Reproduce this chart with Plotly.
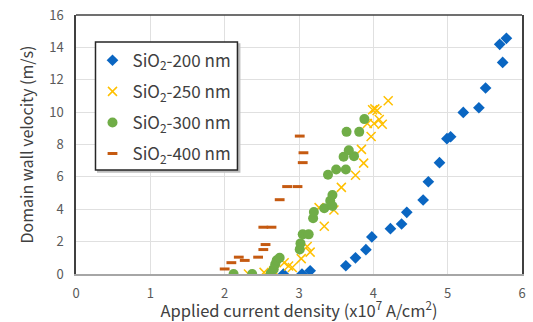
import plotly.graph_objects as go

# SiO2-200 nm
x200 = [2.79, 3.04, 3.15, 3.63, 3.76, 3.90, 3.98, 4.23, 4.38, 4.45, 4.67, 4.74, 4.89, 4.99, 5.04, 5.21, 5.42, 5.51, 5.70, 5.79, 5.74]
y200 = [0.0, 0.0, 0.2, 0.51, 1.0, 1.5, 2.29, 2.8, 3.09, 3.81, 4.57, 5.70, 6.88, 8.36, 8.48, 9.98, 10.27, 11.49, 14.19, 14.56, 13.07]

# SiO2-250 nm
x250 = [2.32, 2.53, 2.80, 2.86, 2.91, 3.03, 3.11, 3.15, 3.27, 3.34, 3.47, 3.57, 3.76, 3.87, 3.84, 3.97, 3.92, 4.01, 4.08, 4.12, 3.99, 4.02, 4.05, 4.20, 2.66]
y250 = [0.0, 0.1, 0.7, 0.5, 0.4, 0.95, 1.7, 1.35, 4.1, 2.95, 3.95, 5.35, 6.1, 6.85, 7.7, 8.5, 9.3, 9.3, 9.55, 9.25, 10.15, 10.2, 10.1, 10.7, 0.2]

# SiO2-300 nm
x300 = [2.12, 2.37, 2.62, 2.66, 2.68, 2.70, 2.74, 3.01, 3.02, 3.05, 3.13, 3.19, 3.20, 3.34, 3.42, 3.45, 3.45, 3.39, 3.50, 3.63, 3.60, 3.67, 3.74, 3.64, 3.81, 3.88]
y300 = [0.0, 0.0, 0.05, 0.3, 0.6, 0.85, 1.0, 1.52, 1.89, 2.45, 2.45, 3.44, 3.83, 4.06, 4.53, 4.88, 4.2, 6.13, 6.46, 6.46, 7.24, 7.65, 7.28, 8.78, 8.78, 9.57]

# SiO2-400 nm
x400 = [2.00, 2.09, 2.19, 2.27, 2.45, 2.52, 2.55, 2.52, 2.63, 2.74, 2.84, 2.98, 3.05, 3.06, 3.01]
y400 = [0.31, 0.70, 1.04, 0.84, 1.04, 1.51, 1.82, 2.89, 2.89, 4.59, 5.40, 5.40, 6.88, 7.49, 8.52]

x_ticks = [0, 1, 2, 3, 4, 5, 6]
y_ticks = [0, 2, 4, 6, 8, 10, 12, 14, 16]

FONT = "Noto Sans CJK JP"

fig = go.Figure()
fig.add_trace(go.Scatter(x=x200, y=y200, mode="markers", name="SiO<sub>2</sub>-200 nm",
                         legendgroup="a",
                         marker=dict(symbol="diamond", size=9, color="#0A66C2")))
fig.add_trace(go.Scatter(x=x250, y=y250, mode="markers", name="SiO<sub>2</sub>-250 nm",
                         legendgroup="b",
                         marker=dict(symbol="x-thin-open", size=9, color="#FFC000",
                                     line=dict(color="#FFC000", width=1.5))))
fig.add_trace(go.Scatter(x=x300, y=y300, mode="markers", name="SiO<sub>2</sub>-300 nm",
                         legendgroup="c",
                         marker=dict(symbol="circle", size=10, color="#70AD47")))
fig.add_trace(go.Scatter(x=x400, y=y400, mode="markers", name="SiO<sub>2</sub>-400 nm",
                         legendgroup="d",
                         marker=dict(symbol="line-ew-open", size=7, color="#C55A11",
                                     line=dict(color="#C55A11", width=3))))

fig.update_layout(
    width=533, height=322,
    margin=dict(l=75.5, r=11.3, t=15, b=48, autoexpand=False),
    paper_bgcolor="white", plot_bgcolor="white",
    font=dict(family=FONT, color="#595959", size=13),
    showlegend=True,
    legend=dict(x=0.037, y=0.893, xanchor="left", yanchor="top",
                bgcolor="rgba(0,0,0,0)", borderwidth=0,
                font=dict(family=FONT, size=17, color="#404040"),
                tracegroupgap=6, itemwidth=30),
    xaxis=dict(range=[0, 6], tickvals=x_ticks, showgrid=True, gridcolor="#E0E0E0",
               gridwidth=1, zeroline=False, showline=True, linecolor="#A6A6A6",
               linewidth=2, mirror=False, ticks="outside", ticklen=6,
               tickcolor="rgba(0,0,0,0)", tickfont=dict(size=13, color="#595959"),
               title=dict(text="Applied current density (x10<sup>7</sup> A/cm<sup>2</sup>)",
                          font=dict(size=16.5, color="#404040"), standoff=4)),
    yaxis=dict(range=[0, 16], tickvals=y_ticks, showgrid=True, gridcolor="#E0E0E0",
               gridwidth=1, zeroline=False, showline=True, linecolor="#404040",
               linewidth=1.5, mirror=True, ticks="outside", ticklen=8,
               tickcolor="rgba(0,0,0,0)", tickfont=dict(size=13, color="#595959"),
               title=dict(text="Domain wall velocity (m/s)",
                          font=dict(size=16, color="#404040"), standoff=12)),
)

# dark top edge of the plot frame
fig.add_shape(type="line", xref="x domain", yref="y domain", x0=0, x1=1, y0=1, y1=1,
              line=dict(color="#404040", width=1.5), layer="above")
# legend box with a soft shadow
fig.add_shape(type="rect", xref="paper", yref="paper",
              x0=0.0437 + 0.005, x1=0.362 + 0.005, y0=0.4015 - 0.008, y1=0.896 - 0.008,
              line=dict(color="#BFBFBF", width=1.5), fillcolor="#BFBFBF", layer="above")
fig.add_shape(type="rect", xref="paper", yref="paper",
              x0=0.0437, x1=0.362, y0=0.4015, y1=0.896,
              line=dict(color="#262626", width=1.5), fillcolor="white", layer="above")

fig.write_html("out.html", config={"displayModeBar": False},
               post_script="document.body.style.margin='0px';")
